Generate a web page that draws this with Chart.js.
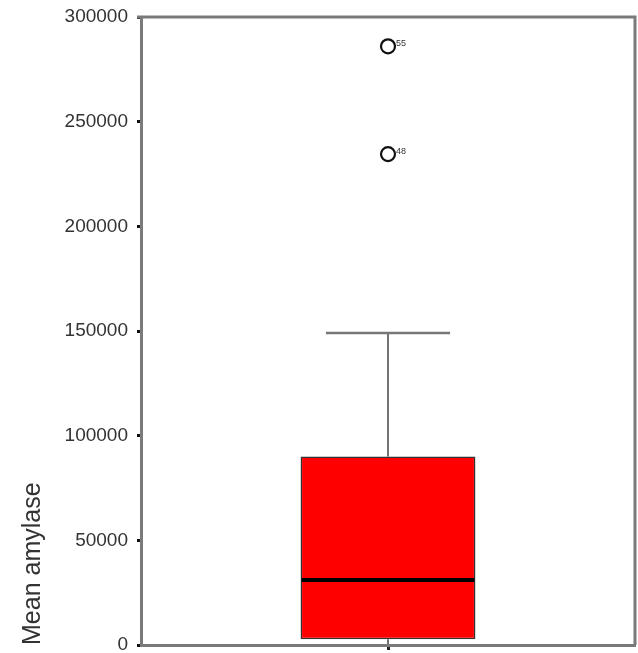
<!DOCTYPE html>
<html>
<head>
<meta charset="utf-8">
<script src="https://cdn.jsdelivr.net/npm/chart.js@4/dist/chart.umd.min.js"></script>
<style>
  html, body { margin: 0; padding: 0; background: #ffffff; }
  #wrap { width: 638px; height: 653px; }
</style>
</head>
<body>
<div id="wrap"><canvas id="c" width="638" height="653"></canvas></div>
<script>
// Box plot of mean amylase
const categories = ['amylase'];
const whiskerLow = [500];
const quartile1 = [2700];
const medians = [31000];
const quartile3 = [90000];
const whiskerHigh = [149000];
const outlierValues = [286000, 234500];
const outlierCases = ['55', '48'];
const yTicks = [0, 50000, 100000, 150000, 200000, 250000, 300000];

const FONT = '"Liberation Sans", Arial, sans-serif';

// whiskers, caps, median line, outlier case numbers and the frame
const boxExtras = {
  id: 'boxExtras',
  afterDatasetsDraw(chart) {
    const ctx = chart.ctx;
    const y = chart.scales.y;
    const boxMeta = chart.getDatasetMeta(0);
    ctx.save();
    boxMeta.data.forEach((bar, i) => {
      const cx = bar.x;
      const half = bar.width / 2;
      const capHalf = bar.width * 0.355;
      const yq1 = y.getPixelForValue(quartile1[i]);
      const yq3 = y.getPixelForValue(quartile3[i]);
      const yHi = y.getPixelForValue(whiskerHigh[i]);
      const yLo = y.getPixelForValue(whiskerLow[i]);
      const yMed = y.getPixelForValue(medians[i]);
      // whiskers
      ctx.strokeStyle = '#444';
      ctx.lineWidth = 1.5;
      ctx.beginPath();
      ctx.moveTo(cx, yq3); ctx.lineTo(cx, yHi);
      ctx.moveTo(cx, yq1); ctx.lineTo(cx, yLo);
      ctx.stroke();
      // upper cap
      ctx.strokeStyle = '#777';
      ctx.lineWidth = 2.5;
      ctx.beginPath();
      ctx.moveTo(cx - capHalf, yHi); ctx.lineTo(cx + capHalf, yHi);
      ctx.stroke();
      // median
      ctx.strokeStyle = '#000';
      ctx.lineWidth = 4;
      ctx.beginPath();
      ctx.moveTo(cx - half + 1, yMed); ctx.lineTo(cx + half - 1, yMed);
      ctx.stroke();
    });
    // case numbers beside outliers
    const outMeta = chart.getDatasetMeta(1);
    ctx.fillStyle = '#333';
    ctx.font = '9px ' + FONT;
    ctx.textAlign = 'left';
    ctx.textBaseline = 'middle';
    outMeta.data.forEach((pt, i) => {
      ctx.fillText(outlierCases[i], pt.x + 8, pt.y - 3);
    });
    // frame around plot area
    const a = chart.chartArea;
    ctx.strokeStyle = '#7a7a7a';
    ctx.lineWidth = 3;
    ctx.beginPath();
    ctx.moveTo(a.left - 4, a.top);
    ctx.lineTo(a.right, a.top);
    ctx.lineTo(a.right, a.bottom);
    ctx.stroke();
    ctx.restore();
  }
};

new Chart(document.getElementById('c'), {
  type: 'bar',
  data: {
    labels: categories,
    datasets: [
      {
        type: 'bar',
        data: categories.map((_, i) => [quartile1[i], quartile3[i]]),
        backgroundColor: '#ff0000',
        borderColor: '#333333',
        borderWidth: 1.5,
        borderSkipped: false,
        barPercentage: 0.354,
        categoryPercentage: 1.0,
        order: 2
      },
      {
        type: 'line',
        data: outlierValues.map(v => ({ x: categories[0], y: v })),
        showLine: false,
        pointStyle: 'circle',
        pointRadius: 7,
        pointBorderWidth: 2.2,
        pointBorderColor: '#111111',
        pointBackgroundColor: '#ffffff',
        order: 1
      }
    ]
  },
  options: {
    responsive: false,
    animation: false,
    devicePixelRatio: 1,
    layout: { autoPadding: false, padding: { top: 17, right: 3, left: 0, bottom: 0 } },
    plugins: {
      legend: { display: false },
      tooltip: { enabled: false }
    },
    scales: {
      x: {
        type: 'category',
        offset: true,
        grid: {
          display: true,
          drawOnChartArea: false,
          drawTicks: true,
          tickLength: 5,
          tickWidth: 3,
          tickColor: '#222222',
          offset: false
        },
        border: { display: true, color: '#7a7a7a', width: 3 },
        ticks: { display: false },
        afterFit(scale) {
          scale.height = 8;
          scale.paddingLeft = 0; scale.paddingRight = 0;
          scale.paddingTop = 0; scale.paddingBottom = 0;
        }
      },
      y: {
        min: 0,
        max: 300000,
        afterBuildTicks(scale) { scale.ticks = yTicks.map(v => ({ value: v })); },
        grid: {
          display: true,
          drawOnChartArea: false,
          drawTicks: true,
          tickLength: 4,
          tickWidth: 3,
          tickColor: '#111111'
        },
        border: { display: true, color: '#7a7a7a', width: 3 },
        ticks: {
          color: '#333333',
          padding: 9,
          font: { family: FONT, size: 19 },
          callback: v => String(v)
        },
        title: {
          display: true,
          text: 'Mean amylase',
          align: 'start',
          color: '#333333',
          font: { family: FONT, size: 25 },
          padding: { top: 18, bottom: 0 }
        },
        afterFit(scale) {
          scale.width = 141;
          scale.paddingLeft = 0; scale.paddingRight = 0;
          scale.paddingTop = 0; scale.paddingBottom = 0;
        }
      }
    }
  },
  plugins: [boxExtras]
});
</script>
</body>
</html>
